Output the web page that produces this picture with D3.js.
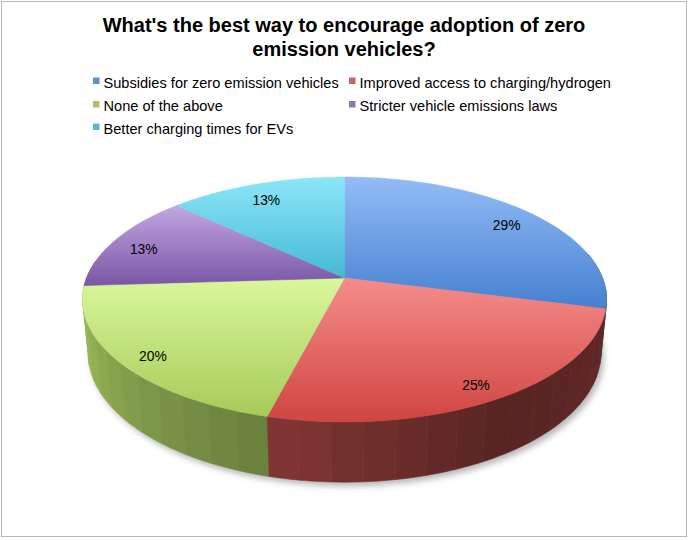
<!DOCTYPE html>
<html><head><meta charset="utf-8">
<script src="https://cdn.jsdelivr.net/npm/d3@7"></script>
<style>html,body{margin:0;padding:0;background:#fff}svg{display:block}</style>
</head><body>
<svg id="chart" width="689" height="540"></svg>
<script>
const categories = ["Subsidies for zero emission vehicles","Improved access to charging/hydrogen","None of the above","Stricter vehicle emissions laws","Better charging times for EVs"];
const values = [29, 25, 20, 13, 13];
const labels = ["29%","25%","20%","13%","13%"];
const titleLines = ["What's the best way to encourage adoption of zero","emission vehicles?"];

const baseColors = ["#4F81BD","#C0504D","#9BBB59","#8064A2","#4BACC6"];
const topLight = ["#93bcf6","#f68d8b","#d9f79c","#c3a7e3","#8ce6f7"];
const topDark  = ["#4580d0","#cf4541","#a8ca58","#7a56a5","#46b9d6"];

const svg = d3.select("#chart");
const defs = svg.append("defs");
const font = "'Liberation Sans', Arial, sans-serif";

// border
svg.append("rect").attr("x",1.5).attr("y",1.5).attr("width",685).attr("height",535)
  .attr("fill","#fff").attr("stroke","#b8b8b8").attr("stroke-width",1);

// title
svg.append("g").selectAll("text").data(titleLines).join("text")
  .attr("x",344).attr("y",(d,i)=>32+i*23.5).attr("text-anchor","middle")
  .attr("font-family",font).attr("font-weight","bold").attr("font-size",20)
  .attr("fill","#000").text(d=>d);

// legend
const legPos = [[93,87.5],[349,87.5],[93,111],[349,111],[93,133.5]];
const leg = svg.append("g");
categories.forEach((c,i)=>{
  const [lx,ly] = legPos[i];
  leg.append("rect").attr("x",lx).attr("y",ly-10).attr("width",6.5).attr("height",6.5)
    .attr("fill",d3.interpolateRgb(baseColors[i],"#fff")(0.12));
  leg.append("text").attr("x",lx+10.5).attr("y",ly).attr("font-family",font).attr("font-size",14.6)
    .attr("fill","#000").text(c);
});

// 3D perspective projection of a cylinder
const cx = 344.5, cy = 278;
const sinA = 0.46, cosA = Math.sqrt(1-sinA*sinA);
const R = 0.1977, F = 1305, H = 0.0466;
function project(theta, r, drop){
  const x = R*r*Math.sin(theta), z = -R*r*Math.cos(theta);
  const v = z*sinA + drop*cosA;
  const depth = 1 - z*cosA + drop*sinA;
  return [cx + F*x/depth, cy + F*v/depth];
}

const pie = d3.pie().sort(null).value(d=>d).startAngle(0).endAngle(2*Math.PI);
const arcs = pie(values);
const line = d3.line();

// shadow
const shadowF = defs.append("filter").attr("id","shadow").attr("x","-10%").attr("y","-10%").attr("width","120%").attr("height","130%");
shadowF.append("feGaussianBlur").attr("stdDeviation",3);
const bottomPts = d3.range(0,361,2).map(a=>project(a*Math.PI/180,1,H));
svg.append("path").attr("d",line(bottomPts)+"Z").attr("transform","translate(3,4)")
  .attr("fill","#7a7a7a").attr("opacity",0.55).attr("filter","url(#shadow)");

// side facets
const shade = d3.scaleLinear().domain([90,105,150,195,230,270]).range([0.5,0.5,0.46,0.68,0.85,1.07]).clamp(true);
const step = 6;
const facets = [];
arcs.forEach((a,i)=>{
  const a0 = a.startAngle*180/Math.PI, a1 = a.endAngle*180/Math.PI;
  for(let t=a0; t<a1-1e-6; t+=step){
    const t1 = Math.min(t+step,a1);
    const mid = (t+t1)/2;
    if(mid<80||mid>280) continue;
    facets.push({i, t0:t, t1, mid});
  }
});
facets.sort((p,q)=>Math.cos(q.mid*Math.PI/180)-Math.cos(p.mid*Math.PI/180));
const sideG = svg.append("g");
facets.forEach(f=>{
  const top=[], bot=[];
  const n = Math.max(1,Math.ceil(f.t1-f.t0));
  for(let j=0;j<=n;j++){ const t=f.t0+(f.t1-f.t0)*j/n; top.push(project(t*Math.PI/180,1,0)); }
  for(let j=n;j>=0;j--){ const t=f.t0+(f.t1-f.t0)*j/n; bot.push(project(t*Math.PI/180,1,H)); }
  const base = d3.rgb(baseColors[f.i]);
  const k = shade(f.mid);
  const c = d3.rgb(Math.min(255,base.r*k),Math.min(255,base.g*k),Math.min(255,base.b*k));
  sideG.append("path").attr("d",line(top.concat(bot))+"Z").attr("fill",c).attr("stroke",c).attr("stroke-width",0.6);
});

// top faces
const topG = svg.append("g");
arcs.forEach((a,i)=>{
  const g = defs.append("linearGradient").attr("id","tg"+i).attr("x1",0).attr("y1",0).attr("x2",0).attr("y2",1);
  g.append("stop").attr("offset","0%").attr("stop-color",topLight[i]);
  g.append("stop").attr("offset","100%").attr("stop-color",topDark[i]);
  const a0=a.startAngle, a1=a.endAngle;
  const n = Math.max(2,Math.ceil((a1-a0)*180/Math.PI));
  const pts=[[cx,cy]];
  for(let j=0;j<=n;j++) pts.push(project(a0+(a1-a0)*j/n,1,0));
  topG.append("path").attr("d",line(pts)+"Z").attr("fill","url(#tg"+i+")")
    .attr("stroke","url(#tg"+i+")").attr("stroke-width",0.5);
});

// labels
svg.append("g").selectAll("text").data(arcs).join("text")
  .each(function(d,i){
    const m = (d.startAngle+d.endAngle)/2;
    const [x,y] = project(m,0.87,0);
    d3.select(this).attr("x",x).attr("y",y+6);
  })
  .attr("text-anchor","middle").attr("dominant-baseline","middle")
  .attr("font-family",font).attr("font-size",13.8).attr("fill","#000")
  .text((d,i)=>labels[i]);
</script>
</body></html>
